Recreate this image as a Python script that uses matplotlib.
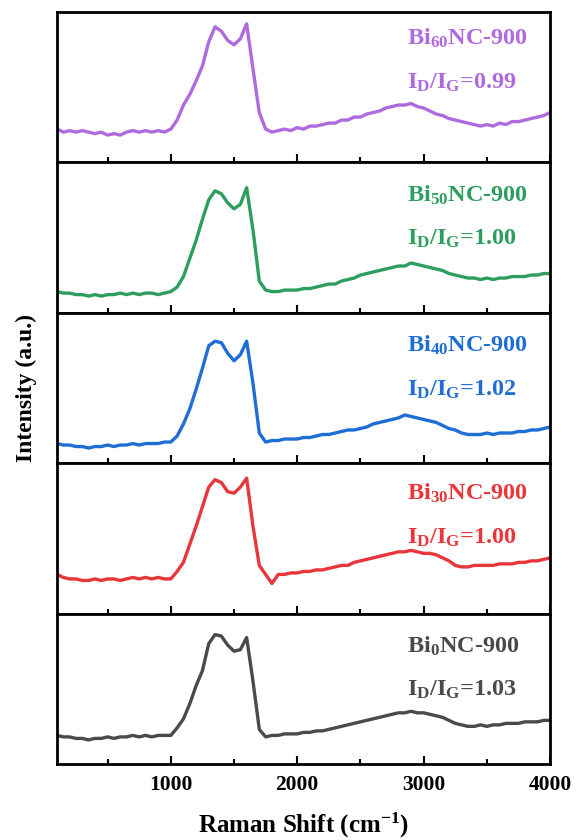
import numpy as np
import matplotlib
matplotlib.use("Agg")
import matplotlib.pyplot as plt
from matplotlib.ticker import MultipleLocator

plt.rcParams["font.family"] = ["Liberation Serif", "DejaVu Serif"]
plt.rcParams["font.weight"] = "bold"
plt.rcParams["mathtext.fontset"] = "custom"
plt.rcParams["mathtext.rm"] = "Liberation Serif:bold"
plt.rcParams["mathtext.bf"] = "Liberation Serif:bold"
plt.rcParams["mathtext.it"] = "Liberation Serif:bold:italic"
plt.rcParams["mathtext.default"] = "rm"

# Raman shift sampling grid (cm^-1)
shift = np.arange(100, 4001, 50)

# Intensities (a.u., each spectrum on its own 0-100 panel scale)
bi60 = [22, 20, 21, 20, 21, 20, 19, 20, 18, 19,
        18, 20, 21, 20, 21, 20, 21, 20, 22, 28,
        38, 45, 54, 64, 80, 90, 87, 81, 78, 82,
        92, 62, 33, 22, 20, 21, 22, 21, 23, 22,
        24, 24, 25, 26, 26, 28, 28, 30, 30, 32,
        33, 34, 36, 37, 38, 38, 39, 37, 36, 34,
        32, 31, 29, 28, 27, 26, 25, 24, 25, 24,
        26, 25, 27, 27, 28, 29, 30, 31, 33]
bi50 = [14, 13, 13, 12, 12, 11, 12, 11, 12, 12,
        13, 12, 13, 12, 13, 13, 12, 13, 14, 17,
        24, 36, 48, 62, 75, 81, 79, 73, 69, 72,
        83, 55, 21, 15, 14, 14, 15, 15, 15, 16,
        16, 17, 18, 19, 19, 21, 22, 23, 25, 26,
        27, 28, 29, 30, 31, 31, 33, 32, 31, 30,
        29, 28, 26, 25, 24, 23, 23, 22, 23, 22,
        23, 23, 24, 24, 24, 25, 25, 26, 26]
bi40 = [13, 12, 12, 11, 11, 10, 11, 11, 12, 11,
        12, 12, 13, 12, 13, 13, 13, 14, 14, 18,
        26, 36, 49, 63, 78, 81, 80, 73, 68, 72,
        81, 53, 20, 14, 15, 15, 16, 16, 16, 17,
        17, 18, 19, 19, 20, 21, 22, 22, 23, 24,
        26, 27, 28, 29, 30, 32, 31, 30, 29, 28,
        27, 25, 23, 22, 20, 19, 19, 19, 20, 19,
        20, 20, 20, 21, 21, 22, 22, 23, 24]
bi30 = [26, 24, 23, 23, 22, 22, 23, 22, 23, 23,
        22, 23, 24, 23, 24, 23, 24, 23, 23, 28,
        34, 46, 58, 71, 84, 89, 87, 81, 80, 84,
        90, 58, 32, 26, 20, 26, 26, 27, 27, 28,
        28, 29, 29, 30, 31, 32, 32, 34, 35, 36,
        37, 38, 39, 40, 41, 41, 42, 41, 40, 40,
        39, 37, 35, 32, 31, 31, 32, 32, 32, 32,
        33, 33, 33, 34, 34, 35, 35, 36, 37]
bi0 = [19, 18, 18, 17, 17, 16, 17, 17, 18, 17,
       18, 18, 19, 18, 19, 18, 19, 19, 19, 24,
       30, 40, 52, 62, 80, 86, 85, 79, 75, 76,
       84, 55, 23, 18, 19, 19, 20, 20, 20, 21,
       21, 22, 22, 23, 24, 25, 26, 27, 28, 29,
       30, 31, 32, 33, 34, 34, 35, 34, 34, 33,
       32, 31, 29, 27, 26, 25, 25, 26, 25, 26,
       26, 27, 27, 27, 28, 28, 28, 29, 29]

spectra = [bi60, bi50, bi40, bi30, bi0]
samples = ["60", "50", "40", "30", "0"]
ratios = ["0.99", "1.00", "1.02", "1.00", "1.03"]
colors = ["#B06ADF", "#2E9E5E", "#1F6ED6", "#E8363B", "#4A4A4A"]
label_y = [(0.82, 0.53), (0.78, 0.49), (0.78, 0.49), (0.80, 0.50), (0.78, 0.49)]

fig = plt.figure(figsize=(5.76, 8.4), dpi=100)
axes = fig.subplots(5, 1, sharex=True)
fig.subplots_adjust(left=0.099, right=0.955, top=0.986, bottom=0.0905, hspace=0)

for ax, y, s, r, c, (y1, y2) in zip(axes, spectra, samples, ratios, colors, label_y):
    ax.plot(shift, y, color=c, lw=2.4)
    ax.set_xlim(100, 4000)
    ax.set_ylim(0, 100)
    ax.set_yticks([])
    for sp in ax.spines.values():
        sp.set_linewidth(2.0)
    ax.xaxis.set_major_locator(MultipleLocator(1000))
    ax.xaxis.set_minor_locator(MultipleLocator(500))
    ax.tick_params(axis="x", which="major", direction="in", length=6, width=1.5,
                   top=False, labelsize=15.5, pad=8)
    ax.tick_params(axis="x", which="minor", direction="in", length=3.5, width=1.5,
                   top=False)
    ax.text(0.71, y1, "Bi$_{%s}$NC-900" % s, transform=ax.transAxes, color=c,
            fontsize=17.5, fontweight="bold", ha="left", va="center")
    ax.text(0.71, y2, "I$_{D}$/I$_{G}$=%s" % r, transform=ax.transAxes, color=c,
            fontsize=17.5, fontweight="bold", ha="left", va="center")

for ax in axes[:-1]:
    ax.tick_params(axis="x", labelbottom=False)

axes[-1].set_xlabel("Raman Shift (cm$^{-1}$)", fontsize=18, fontweight="bold", labelpad=11)
fig.text(0.045, 0.538, "Intensity (a.u.)", rotation=90, fontsize=17,
         fontweight="bold", ha="center", va="center")

fig.savefig("out.png", dpi=100)
